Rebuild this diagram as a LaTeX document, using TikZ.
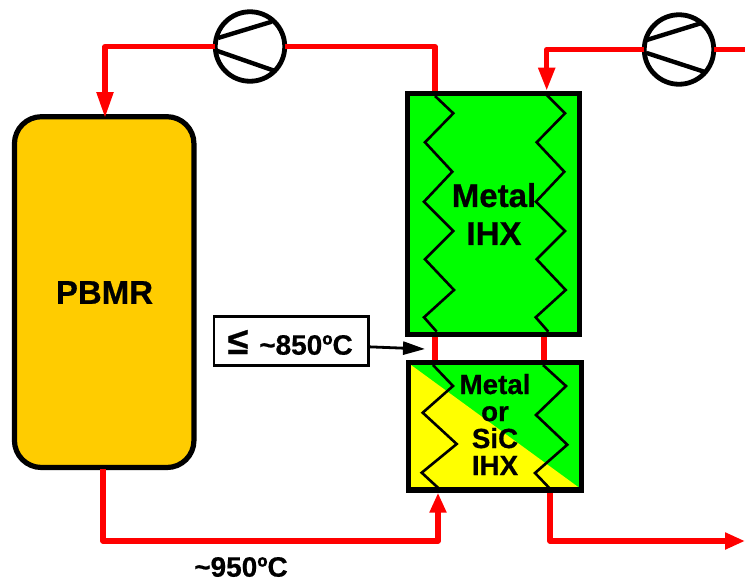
\documentclass[tikz,border=0pt]{standalone}
\usepackage{fontspec}
\setmainfont{Liberation Sans}[BoldFeatures={FakeBold=0.6}]
\usetikzlibrary{arrows.meta}
\definecolor{hxgreen}{RGB}{0,255,0}
\definecolor{hxyellow}{RGB}{255,255,0}
\definecolor{coreamber}{RGB}{255,204,0}
\definecolor{flowred}{RGB}{255,0,0}
\tikzset{
  x=1pt,y=-1pt,
  every node/.style={inner sep=0pt,outer sep=0pt},
  flow/.style={draw=flowred,line width=5.2pt,line join=round},
  flowtip/.style={flow,-{Triangle[length=#1,width=16pt]}},
  core/.style={draw=black,line width=5.2pt,fill=coreamber,rounded corners=27pt,minimum width=179.5pt,minimum height=350.8pt},
  hxbox/.style={draw=black,line width=5.4pt,minimum width=#1,rectangle},
  pumpc/.style={circle,draw=black,fill=white,line width=4.8pt,minimum size=69.5pt},
  blade/.style={draw=black,line width=4.4pt},
  coil/.style={draw=black,line width=2.6pt},
  title/.style={font=\bfseries\fontsize{33}{38}\selectfont,text=black,align=center},
  subt/.style={font=\bfseries\fontsize{27.7}{27}\selectfont,text=black,align=center},
}
\begin{document}
\begin{tikzpicture}
\useasboundingbox (0,0) rectangle (745,579);
% nodes
\node[core] (pbmr) at (104.2,292.1) {};
\node[pumpc] (pumpa) at (250,46.5) {};
\node[pumpc] (pumpb) at (679,49.5) {};
\node[hxbox=171.7pt,minimum height=240.9pt] (ihxa) at (493.35,213.75) {};
\node[hxbox=173.5pt,minimum height=127.7pt] (ihxb) at (495,426.2) {};
% ports
\coordinate (ainl) at (435,93.3);
\coordinate (ainr) at (546.7,90.7);
\coordinate (aoutl) at (435,336);
\coordinate (aoutr) at (544,336);
\coordinate (binl) at (435,361);
\coordinate (binr) at (544,361);
\coordinate (bgas) at (438,492.7);
\coordinate (bout) at (550,491);
\coordinate (core-in) at (105,118);
\coordinate (core-out) at (103,469);
\coordinate (lowr) at (438,541);
\coordinate (exit) at (745,541);
\coordinate (pipeb) at (745,49.5);
% red piping
\draw[flowtip=26pt] (pumpa.west) -| (core-in);
\draw[flow] (pumpa.east) -| (ainl);
\draw[flowtip=23pt] (pumpb.west) -| (ainr);
\draw[flow] (pumpb.east) -- (pipeb);
\draw[flow] (aoutl) -- (binl);
\draw[flow] (aoutr) -- (binr);
\draw[flowtip=20pt] (core-out) |- (lowr) -- (bgas);
\draw[flowtip=20pt] (bout) |- (exit);
% box fills
\fill[hxgreen] (410,96) rectangle (576.7,331.5);
\fill[hxgreen] (411,365) rectangle (579,487.6);
\fill[hxyellow] (411,365) -- (579,487.6) -- (411,487.6) -- cycle;
\node[hxbox=171.7pt,minimum height=240.9pt] at (ihxa) {};
\node[hxbox=173.5pt,minimum height=127.7pt] at (ihxb) {};
% coils
\draw[coil] (435,96) -- (453.3,113.3) -- (425,142.3) -- (452.3,171.7) -- (424,201.7) -- (453.3,231) -- (425,259.3) -- (454,290) -- (424,317.3) -- (436.7,331.7);
\draw[coil] (546.7,95) -- (565,113.3) -- (536.7,142.3) -- (564.3,171.7) -- (536,201.7) -- (565,231) -- (536.7,259.3) -- (565.7,290) -- (535.7,317.3) -- (548.3,331.7);
\draw[coil] (433,365) -- (453,386) -- (422.7,412.7) -- (456.7,444) -- (421.7,472.7) -- (438.3,488);
\draw[coil] (543,365) -- (566,386) -- (536,415) -- (567.3,444.7) -- (535,473) -- (549.3,488);
% pump blades
\draw[blade] (218,38) -- (271.7,21.7);
\draw[blade] (216.7,50.7) -- (275,71);
\draw[blade] (646.7,40) -- (701.7,23);
\draw[blade] (646.7,53) -- (704,71.7);
% labels
\node[title] (lpbmr) at (104.5,292.5) {PBMR};
\node[title] (lmetal) at (494,214) {Metal\\IHX};
\node[subt] (lsic) at (495,424.5) {Metal\\or\\SiC\\IHX};
\node[draw=black,fill=white,line width=2.8pt,minimum width=154.5pt,minimum height=49pt] (tbox) at (291.3,340.8) {};
\node[font=\bfseries\fontsize{38}{38}\selectfont] (leq) at (238,342) {≤};
\node[font=\bfseries\fontsize{28}{28}\selectfont] (l850) at (306,345) {\char"7E 850º{}C};
\node[font=\bfseries\fontsize{28}{28}\selectfont] (l950) at (241,567) {\char"7E 950º{}C};
\coordinate (tip) at (425,349);
\draw[draw=black,line width=2.8pt,-{Triangle[length=22pt,width=13pt]}] (tbox.east) ++(0,6) -- (tip);
\end{tikzpicture}
\end{document}
